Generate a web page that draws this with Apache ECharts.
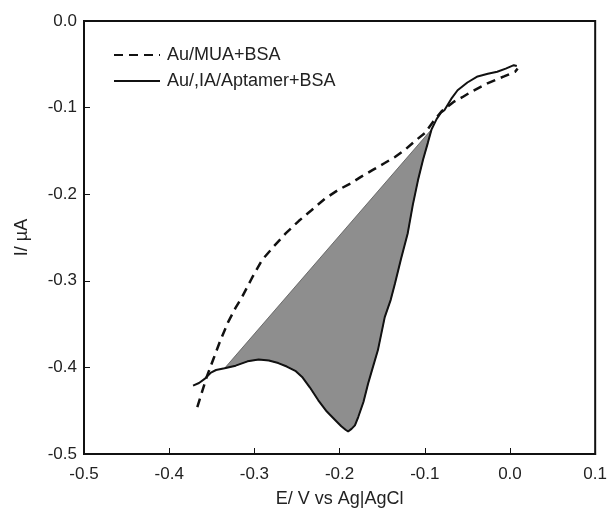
<!DOCTYPE html>
<html>
<head>
<meta charset="utf-8">
<script src="https://cdn.jsdelivr.net/npm/echarts@6/dist/echarts.min.js"></script>
<style>html,body{margin:0;padding:0;background:#fff}#c{width:610px;height:518px}</style>
</head>
<body>
<div id="c"></div>
<script>
// Au/,IA/Aptamer+BSA (solid) : [E (V), I (uA)]
var solidData = [
  [-0.372,-0.421],[-0.365,-0.418],[-0.358,-0.413],[-0.351,-0.406],[-0.345,-0.403],[-0.335,-0.401],
  [-0.322,-0.398],[-0.308,-0.393],[-0.295,-0.391],[-0.283,-0.392],[-0.272,-0.395],[-0.262,-0.399],
  [-0.252,-0.404],[-0.244,-0.411],[-0.235,-0.423],[-0.225,-0.438],[-0.215,-0.451],[-0.205,-0.461],
  [-0.198,-0.468],[-0.193,-0.472],[-0.190,-0.474],[-0.186,-0.471],[-0.182,-0.467],[-0.178,-0.457],
  [-0.172,-0.440],[-0.1665,-0.4185],[-0.161,-0.400],[-0.155,-0.380],[-0.147,-0.342],[-0.140,-0.322],
  [-0.135,-0.303],[-0.128,-0.275],[-0.120,-0.245],[-0.114,-0.212],[-0.108,-0.184],[-0.102,-0.160],
  [-0.0965,-0.141],[-0.092,-0.125],[-0.086,-0.113],[-0.081,-0.106],[-0.077,-0.103],[-0.069,-0.090],
  [-0.0615,-0.080],[-0.050,-0.071],[-0.038,-0.064],[-0.026,-0.061],[-0.015,-0.0586],[-0.005,-0.055],
  [0.0045,-0.051],[0.008,-0.052]
];
// Au/MUA+BSA (dashed)
var dashedData = [
  [-0.367,-0.446],[-0.362,-0.430],[-0.356,-0.411],[-0.348,-0.390],[-0.340,-0.369],[-0.331,-0.348],
  [-0.322,-0.331],[-0.3146,-0.319],[-0.303,-0.297],[-0.291,-0.276],[-0.277,-0.260],[-0.263,-0.245],
  [-0.248,-0.231],[-0.233,-0.2185],[-0.217,-0.205],[-0.2015,-0.195],[-0.188,-0.188],[-0.175,-0.180],
  [-0.161,-0.172],[-0.147,-0.164],[-0.135,-0.157],[-0.1235,-0.149],[-0.112,-0.139],[-0.100,-0.1295],
  [-0.090,-0.116],[-0.080,-0.104],[-0.0655,-0.093],[-0.056,-0.088],[-0.046,-0.082],[-0.0265,-0.072],
  [-0.017,-0.068],[-0.007,-0.064],[0.006,-0.0586],[0.009,-0.055]
];
var seriesNames = ['Au/MUA+BSA', 'Au/,IA/Aptamer+BSA'];
var xTicks = { min: -0.5, max: 0.1, step: 0.1 };
var yTicks = { min: -0.5, max: 0.0, step: 0.1 };
var xTitle = 'E/ V vs Ag|AgCl';
var yTitle = 'I/ \u00b5A';
// shaded peak region bounds (E)
var fillStart = -0.335, fillEnd = -0.092;

var fillPoly = solidData.filter(function (p) { return p[0] >= fillStart - 1e-9 && p[0] <= fillEnd + 1e-9; });

var font = 'Liberation Sans, Arial, Helvetica, sans-serif';
var chart = echarts.init(document.getElementById('c'), null, { renderer: 'canvas' });
chart.setOption({
  animation: false,
  backgroundColor: '#fff',
  grid: { left: 84, right: 12, top: 21, bottom: 64, show: true, borderColor: '#111', borderWidth: 2, backgroundColor: 'transparent' },
  legend: {
    orient: 'vertical', left: 108, top: 41, itemWidth: 46, itemHeight: 14, itemGap: 8,
    data: seriesNames,
    itemStyle: { color: 'rgba(0,0,0,0)', borderWidth: 0, opacity: 0 },
    textStyle: { fontFamily: font, fontSize: 18, color: '#222', padding: [0, 0, 0, 2] },
    selectedMode: false
  },
  xAxis: {
    type: 'value', min: xTicks.min, max: xTicks.max, interval: xTicks.step,
    name: xTitle, nameLocation: 'middle', nameGap: 36,
    nameTextStyle: { fontFamily: font, fontSize: 18, color: '#222' },
    axisLine: { show: true, onZero: false, lineStyle: { color: '#111', width: 2 } },
    axisTick: { show: true, inside: true, length: 6, lineStyle: { color: '#111', width: 1 } },
    axisLabel: { fontFamily: font, fontSize: 17, color: '#222', margin: 12, formatter: function (v) { return v.toFixed(1); } },
    splitLine: { show: false }
  },
  yAxis: {
    type: 'value', min: yTicks.min, max: yTicks.max, interval: yTicks.step,
    name: yTitle, nameLocation: 'middle', nameGap: 53, nameRotate: 90,
    nameTextStyle: { fontFamily: font, fontSize: 18, color: '#222' },
    axisLine: { show: true, onZero: false, lineStyle: { color: '#111', width: 2 } },
    axisTick: { show: true, inside: true, length: 6, lineStyle: { color: '#111', width: 1 } },
    axisLabel: { fontFamily: font, fontSize: 17, color: '#222', margin: 7, formatter: function (v) { return v.toFixed(1); } },
    splitLine: { show: false }
  },
  series: [
    {
      type: 'custom', name: 'fill', coordinateSystem: 'cartesian2d', z: 1, silent: true,
      data: fillPoly, encode: { x: 0, y: 1 },
      renderItem: function (params, api) {
        if (params.dataIndex !== 0) return null;
        var pts = fillPoly.map(function (p) { return api.coord(p); });
        return { type: 'polygon', shape: { points: pts }, style: { fill: '#8e8e8e', stroke: '#555', lineWidth: 0.8 } };
      }
    },
    {
      type: 'line', name: seriesNames[0], data: dashedData, symbol: 'none', z: 3, smooth: false,
      lineStyle: { color: '#111', width: 2.5, type: [9, 6] }, itemStyle: { color: '#111' }
    },
    {
      type: 'line', name: seriesNames[1], data: solidData, symbol: 'none', z: 3, smooth: false,
      lineStyle: { color: '#111', width: 2 }, itemStyle: { color: '#111' }
    }
  ]
});
</script>
</body>
</html>
